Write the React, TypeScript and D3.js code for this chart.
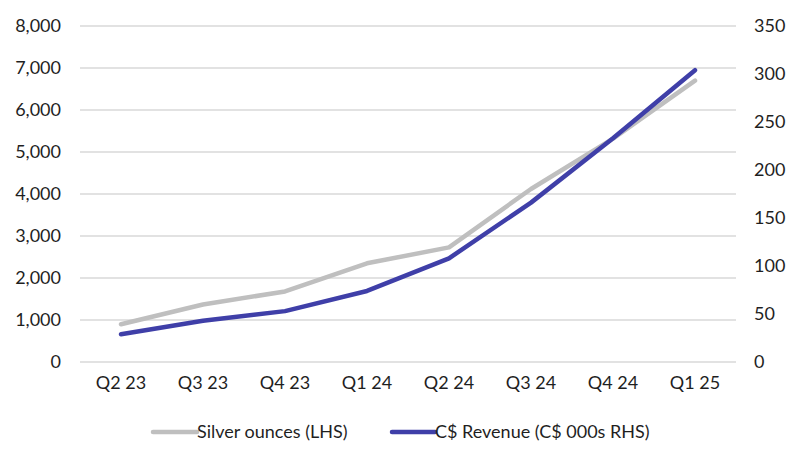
import * as d3 from 'd3'

const quarters = ['Q2 23', 'Q3 23', 'Q4 23', 'Q1 24', 'Q2 24', 'Q3 24', 'Q4 24', 'Q1 25']
const silverOunces = [900, 1370, 1680, 2350, 2730, 4120, 5320, 6700]
const revenue = [29, 43, 53, 74, 108, 166, 233, 304]
const leftTicks = [0, 1000, 2000, 3000, 4000, 5000, 6000, 7000, 8000]
const rightTicks = [0, 50, 100, 150, 200, 250, 300, 350]
const legendLabels = ['Silver ounces (LHS)', 'C$ Revenue (C$ 000s RHS)']

const width = 800
const height = 465
const marginLeft = 80
const marginRight = 64
const marginTop = 26
const marginBottom = 103
const font = 'Lato, "Open Sans", sans-serif'
const gray = '#bfbfbf'
const blue = '#3f3fa8'
const textColor = '#1f1f1f'

export default function App() {
  const x = d3
    .scaleBand()
    .domain(quarters)
    .range([marginLeft, width - marginRight])
  const yLeft = d3
    .scaleLinear()
    .domain([0, 8000])
    .range([height - marginBottom, marginTop])
  const yRight = d3
    .scaleLinear()
    .domain([0, 350])
    .range([height - marginBottom, marginTop])

  const cx = (q: string) => x(q)! + x.bandwidth() / 2

  const silverLine = d3
    .line<number>()
    .x((_, i) => cx(quarters[i]))
    .y((d) => yLeft(d))
  const revenueLine = d3
    .line<number>()
    .x((_, i) => cx(quarters[i]))
    .y((d) => yRight(d))

  const fmt = d3.format(',')

  return (
    <div style={{ margin: -8 }}>
      <svg width={width} height={height} style={{ display: 'block', fontFamily: font }}>
        <rect x={1} y={1} width={width - 2} height={height - 2} fill="#fff" stroke="#d9d9d9" strokeWidth={1.5} />

        {/* gridlines */}
        {leftTicks.map((t) => (
          <line
            key={t}
            x1={marginLeft}
            x2={width - marginRight}
            y1={yLeft(t)}
            y2={yLeft(t)}
            stroke="#d9d9d9"
            strokeWidth={1.5}
          />
        ))}

        {/* left axis */}
        {leftTicks.map((t) => (
          <text key={t} x={61} y={yLeft(t)} dy="0.35em" textAnchor="end" fontSize={18} fill={textColor}>
            {fmt(t)}
          </text>
        ))}

        {/* right axis */}
        {rightTicks.map((t) => (
          <text key={t} x={754} y={yRight(t)} dy="0.35em" textAnchor="start" fontSize={18} fill={textColor}>
            {t}
          </text>
        ))}

        {/* x axis labels */}
        {quarters.map((q) => (
          <text key={q} x={cx(q)} y={389} textAnchor="middle" fontSize={18} fill={textColor}>
            {q}
          </text>
        ))}

        <path d={silverLine(silverOunces)!} fill="none" stroke={gray} strokeWidth={4.5} strokeLinejoin="round" strokeLinecap="round" />
        <path d={revenueLine(revenue)!} fill="none" stroke={blue} strokeWidth={4.5} strokeLinejoin="round" strokeLinecap="round" />

        {/* legend */}
        <g transform="translate(153,432)">
          <line x1={0} x2={44} y1={0} y2={0} stroke={gray} strokeWidth={4.5} strokeLinecap="round" />
          <text x={44} y={0} dy="0.35em" fontSize={18} fill={textColor}>
            {legendLabels[0]}
          </text>
        </g>
        <g transform="translate(392,432)">
          <line x1={0} x2={43} y1={0} y2={0} stroke={blue} strokeWidth={4.5} strokeLinecap="round" />
          <text x={43} y={0} dy="0.35em" fontSize={18} fill={textColor}>
            {legendLabels[1]}
          </text>
        </g>
      </svg>
    </div>
  )
}
